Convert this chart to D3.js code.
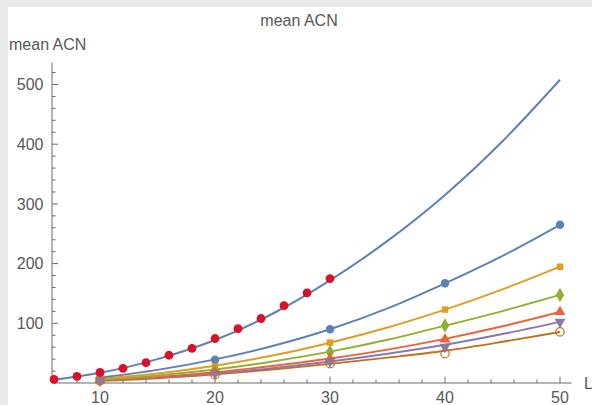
<!DOCTYPE html>
<html>
<head>
<meta charset="utf-8">
<script src="https://cdn.jsdelivr.net/npm/d3@7"></script>
<style>
  html, body { margin: 0; padding: 0; background: #fff; }
  svg { display: block; }
  text { font-family: "Liberation Sans", Arial, sans-serif; fill: #585858; }
</style>
</head>
<body>
<svg id="chart" width="592" height="405"></svg>
<script>
// Measured mean ACN for the open chain (red dots), L = 6..30
const chainL = [6, 8, 10, 12, 14, 16, 18, 20, 22, 24, 26, 28, 30];
const chainACN = [6, 11, 17.7, 24.4, 34, 46.5, 58, 74.5, 91, 108, 129.5, 151, 175];

// Fitted curve for the open chain, sampled along L
const fitL = [6, 10, 15, 20, 25, 30, 35, 40, 45, 50];
const fitACN = [5.5, 17, 40, 72, 116, 172, 238, 315, 405, 508];

// Six further series: measured values at L = 10, 20, 30, 40, 50
const seriesL = [10, 20, 30, 40, 50];
const series1 = [9, 39, 90, 167, 265];
const series2 = [7, 28, 67.7, 123, 194.7];
const series3 = [5.5, 22, 52, 96.4, 147.5];
const series4 = [4.5, 18, 40.8, 73.3, 119];
const series5 = [4, 16, 36.2, 60.3, 102.5];
const series6 = [3.5, 14, 32.4, 49.2, 85.6];

// Fitted curves for those series, sampled every 5 in L
const curveL = [10, 15, 20, 25, 30, 35, 40, 45, 50];
const curve1 = [9, 22, 39.5, 62, 90, 125, 167, 213, 265];
const curve2 = [7, 16, 29, 46, 67.5, 93, 123, 157, 195];
const curve3 = [5.5, 12.5, 22.5, 36, 52.5, 72.5, 96, 120.5, 147.5];
const curve4 = [4.5, 10, 18, 28.5, 41, 56, 74, 95, 119];
const curve5 = [4, 9, 16, 25, 36, 49, 64, 82, 102.5];
const curve6 = [3.5, 8, 14.5, 22.5, 32, 42.5, 54, 69, 85.5];

const seriesColors = ["#5E81B5", "#E19C24", "#8FB032", "#EB6235", "#8778B3", "#C56E1A"];
const seriesShapes = ["circle", "square", "diamond", "triangleUp", "triangleDown", "openCircle"];

const yTicks = [100, 200, 300, 400, 500];
const xTicks = [10, 20, 30, 40, 50];

const svg = d3.select("#chart");

// page frame: light grey band on the left and top
svg.append("rect").attr("x", 0).attr("y", 0).attr("width", 592).attr("height", 405).attr("fill", "#e9e9e9");
svg.append("rect").attr("x", 8).attr("y", 7).attr("width", 584).attr("height", 398).attr("fill", "#fff");

const x = d3.scaleLinear().domain([10, 50]).range([100, 560]);
const y = d3.scaleLinear().domain([0, 500]).range([383, 84.5]);

const xAxisStart = 5.83, xAxisEnd = 51;   // L range covered by the horizontal axis
const yAxisTop = 537;                     // ACN value at the top of the vertical axis
const axisColor = "#6b6b6b";

// axes
const axes = svg.append("g");
axes.append("line")
  .attr("x1", x(xAxisStart)).attr("x2", x(xAxisEnd))
  .attr("y1", y(0)).attr("y2", y(0))
  .attr("stroke", axisColor).attr("stroke-width", 1);
axes.append("line")
  .attr("x1", x(xAxisStart)).attr("x2", x(xAxisStart))
  .attr("y1", y(0)).attr("y2", y(yAxisTop))
  .attr("stroke", axisColor).attr("stroke-width", 1);

// x ticks (major every 10, minor every 2), pointing up
const xMinor = d3.range(6, 51, 2).filter(v => !xTicks.includes(v));
axes.selectAll(".xminor").data(xMinor).join("line")
  .attr("x1", d => x(d)).attr("x2", d => x(d))
  .attr("y1", y(0)).attr("y2", y(0) - 3.5)
  .attr("stroke", axisColor);
axes.selectAll(".xmajor").data(xTicks).join("line")
  .attr("x1", d => x(d)).attr("x2", d => x(d))
  .attr("y1", y(0)).attr("y2", y(0) - 6.5)
  .attr("stroke", axisColor);
axes.selectAll(".xlab").data(xTicks).join("text")
  .attr("x", d => x(d)).attr("y", 403)
  .attr("text-anchor", "middle").attr("font-size", 16)
  .text(d => d);

// y ticks (major every 100, minor every 20), pointing right
const yMinor = d3.range(20, 521, 20).filter(v => !yTicks.includes(v));
axes.selectAll(".yminor").data(yMinor).join("line")
  .attr("x1", x(xAxisStart)).attr("x2", x(xAxisStart) + 3.5)
  .attr("y1", d => y(d)).attr("y2", d => y(d))
  .attr("stroke", axisColor);
axes.selectAll(".ymajor").data(yTicks).join("line")
  .attr("x1", x(xAxisStart)).attr("x2", x(xAxisStart) + 6)
  .attr("y1", d => y(d)).attr("y2", d => y(d))
  .attr("stroke", axisColor);
axes.selectAll(".ylab").data(yTicks).join("text")
  .attr("x", 43.5).attr("y", d => y(d)).attr("dy", "0.36em")
  .attr("text-anchor", "end").attr("font-size", 16)
  .text(d => d);

// labels
svg.append("text").attr("x", 299).attr("y", 26).attr("text-anchor", "middle")
  .attr("font-size", 16).text("mean ACN");
svg.append("text").attr("x", 9).attr("y", 50).attr("font-size", 16).text("mean ACN");
svg.append("text").attr("x", 584).attr("y", 389).attr("font-size", 16).text("L");

const line = d3.line().x(d => x(d[0])).y(d => y(d[1])).curve(d3.curveMonotoneX);

// fitted curve for the open chain
svg.append("path")
  .datum(d3.zip(fitL, fitACN))
  .attr("d", line).attr("fill", "none")
  .attr("stroke", "#5E81B5").attr("stroke-width", 2);

// fitted curves for the six series (drawn bottom-up so upper ones sit on top)
const allCurves = [curve1, curve2, curve3, curve4, curve5, curve6];
for (let i = allCurves.length - 1; i >= 0; i--) {
  svg.append("path")
    .datum(d3.zip(curveL, allCurves[i]))
    .attr("d", line).attr("fill", "none")
    .attr("stroke", seriesColors[i]).attr("stroke-width", 1.9);
}

// markers
const allSeries = [series1, series2, series3, series4, series5, series6];
const symbolFor = {
  circle: d3.symbolCircle, square: d3.symbolSquare, diamond: d3.symbolDiamond,
  triangleUp: d3.symbolTriangle, triangleDown: d3.symbolTriangle, openCircle: d3.symbolCircle
};
allSeries.forEach((vals, i) => {
  const shape = seriesShapes[i];
  const size = shape === "square" ? 42 : shape === "diamond" ? 60 : shape.startsWith("triangle") ? 52 : 55;
  const g = svg.append("g");
  g.selectAll("path").data(d3.zip(seriesL, vals)).join("path")
    .attr("d", d3.symbol(symbolFor[shape], size))
    .attr("transform", d => `translate(${x(d[0])},${y(d[1])})` + (shape === "triangleDown" ? " rotate(180)" : ""))
    .attr("fill", shape === "openCircle" ? "none" : seriesColors[i])
    .attr("stroke", shape === "openCircle" ? seriesColors[i] : "none")
    .attr("stroke-width", 1.2);
});

// open chain measurements
svg.append("g").selectAll("circle").data(d3.zip(chainL, chainACN)).join("circle")
  .attr("cx", d => x(d[0])).attr("cy", d => y(d[1])).attr("r", 4.4)
  .attr("fill", "#dc0f2a");
</script>
</body>
</html>
